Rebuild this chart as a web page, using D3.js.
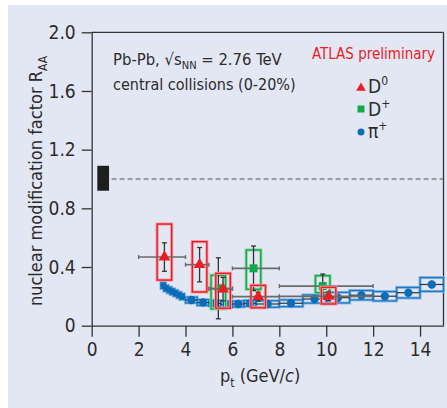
<!DOCTYPE html>
<html>
<head>
<meta charset="utf-8">
<script src="https://cdn.jsdelivr.net/npm/d3@7"></script>
<style>
  body { margin: 0; background: #fff; }
  text { font-family: "Liberation Sans Narrow", "DejaVu Sans Condensed", "Roboto", sans-serif; fill: #2b2b2b; }
</style>
</head>
<body>
<div id="chart"></div>
<script>
// ---- data ----
// D0 (red triangles)
var d0Pt     = [3.1, 4.6, 5.6, 7.1, 10.1];
var d0PtLo   = [2, 4, 5, 6, 8];
var d0PtHi   = [4, 5, 6, 8, 12];
var d0R      = [0.468, 0.416, 0.25, 0.198, 0.2];
var d0Stat   = [0.097, 0.117, 0.08, 0.03, 0.03];
var d0SysLo  = [0.311, 0.23, 0.119, 0.122, 0.148];
var d0SysHi  = [0.693, 0.573, 0.357, 0.275, 0.262];

// D+ (green squares)
var dpPt     = [5.4, 6.9, 9.85];
var dpPtLo   = [5, 6, 8];
var dpPtHi   = [6, 8, 12];
var dpR      = [0.255, 0.391, 0.27];
var dpStat   = [0.208, 0.152, 0.082];
var dpSysLo  = [0.114, 0.248, 0.225];
var dpSysHi  = [0.344, 0.516, 0.341];

// pi+ (blue circles)
var piPt   = [3.05, 3.17, 3.31, 3.44, 3.58, 3.72, 3.85, 4.25, 4.75, 5.25, 5.75, 6.25, 6.75, 7.5, 8.5, 9.5, 10.5, 11.5, 12.5, 13.5, 14.5];
var piPtLo = [2.95, 3.07, 3.21, 3.34, 3.48, 3.62, 3.75, 4.0, 4.5, 5.0, 5.5, 6.0, 6.5, 7, 8, 9, 10, 11, 12, 13, 14];
var piPtHi = [3.15, 3.27, 3.41, 3.54, 3.68, 3.82, 3.95, 4.5, 5.0, 5.5, 6.0, 6.5, 7.0, 8, 9, 10, 11, 12, 13, 14, 15];
var piR    = [0.275, 0.255, 0.243, 0.232, 0.221, 0.209, 0.198, 0.175, 0.158, 0.152, 0.146, 0.148, 0.152, 0.148, 0.153, 0.182, 0.191, 0.208, 0.201, 0.225, 0.281];
var piStat = [0.005, 0.005, 0.005, 0.005, 0.005, 0.005, 0.005, 0.005, 0.005, 0.005, 0.005, 0.006, 0.006, 0.007, 0.008, 0.009, 0.01, 0.012, 0.014, 0.02, 0.026];
var piSys  = [0.022, 0.02, 0.02, 0.02, 0.02, 0.02, 0.02, 0.02, 0.02, 0.02, 0.02, 0.02, 0.02, 0.022, 0.023, 0.028, 0.036, 0.032, 0.032, 0.036, 0.047];

// normalisation uncertainty box at RAA = 1
var normPt = [0.24, 0.74];
var normR  = [0.92, 1.09];

var xTicks = [0, 2, 4, 6, 8, 10, 12, 14];
var yTicks = [0, 0.4, 0.8, 1.2, 1.6, 2.0];

// ---- layout ----
var W = 447, H = 408;
var margin = {top: 32.3, right: 3.5, bottom: 82.3, left: 91.7},
    width = W - margin.left - margin.right,
    height = H - margin.top - margin.bottom;

var root = d3.select("#chart").append("svg")
    .attr("width", W).attr("height", H);

// lavender panel
root.append("rect").attr("x", 8).attr("y", 5).attr("width", W - 8).attr("height", H - 5)
    .attr("fill", "#e3e7f4");

var svg = root.append("g")
    .attr("transform", "translate(" + margin.left + "," + margin.top + ")");

var x = d3.scaleLinear().domain([0, 15]).range([0, width]);
var y = d3.scaleLinear().domain([0, 2]).range([height, 0]);

// axes
var xAxis = svg.append("g")
    .attr("transform", "translate(0," + height + ")")
    .call(d3.axisBottom(x).tickValues(xTicks).tickSize(11).tickSizeOuter(0).tickPadding(6));
var yAxis = svg.append("g")
    .call(d3.axisLeft(y).tickValues(yTicks).tickSize(10).tickSizeOuter(0).tickPadding(6)
      .tickFormat(function(d){ return d === 0 ? "0" : d3.format(".1f")(d); }));
[xAxis, yAxis].forEach(function(a){
  a.selectAll("path.domain").attr("stroke", "#333").attr("stroke-width", 1.3);
  a.selectAll(".tick line").attr("stroke", "#333").attr("stroke-width", 1.3);
  a.selectAll(".tick text").style("font-size", "19px").attr("fill", "#2b2b2b");
});

// top and right frame
svg.append("line").attr("x1", 0).attr("x2", width).attr("y1", 0).attr("y2", 0)
  .attr("stroke", "#333").attr("stroke-width", 1.3);
svg.append("line").attr("x1", width).attr("x2", width).attr("y1", 0).attr("y2", height)
  .attr("stroke", "#333").attr("stroke-width", 1.3);

// dashed line at 1
svg.append("line").attr("x1", x(0.85)).attr("x2", width).attr("y1", y(1)).attr("y2", y(1))
  .attr("stroke", "#555").attr("stroke-width", 1.1).attr("stroke-dasharray", "5,3");

svg.append("rect")
  .attr("x", x(normPt[0])).attr("width", x(normPt[1]) - x(normPt[0]))
  .attr("y", y(normR[1])).attr("height", y(normR[0]) - y(normR[1]))
  .attr("fill", "#1e1e1e");

// ---- pi+ ----
var pi = piPt.map(function(p, i){
  return {pt: p, lo: piPtLo[i], hi: piPtHi[i], r: piR[i], st: piStat[i], sy: piSys[i]};
});
var gPi = svg.append("g");
gPi.selectAll("rect.halo").data(pi).enter().append("rect")
  .attr("x", function(d){ return x(d.lo); })
  .attr("width", function(d){ return x(d.hi) - x(d.lo); })
  .attr("y", function(d){ return y(d.r + d.sy); })
  .attr("height", function(d){ return y(d.r - d.sy) - y(d.r + d.sy); })
  .attr("fill", "none").attr("stroke", "#8dbbe6").attr("stroke-width", 3);
gPi.selectAll("rect.box").data(pi).enter().append("rect")
  .attr("x", function(d){ return x(d.lo); })
  .attr("width", function(d){ return x(d.hi) - x(d.lo); })
  .attr("y", function(d){ return y(d.r + d.sy); })
  .attr("height", function(d){ return y(d.r - d.sy) - y(d.r + d.sy); })
  .attr("fill", "none").attr("stroke", "#1f78c3").attr("stroke-width", 1.3);
gPi.selectAll("line.h").data(pi).enter().append("line")
  .attr("x1", function(d){ return x(d.lo); }).attr("x2", function(d){ return x(d.hi); })
  .attr("y1", function(d){ return y(d.r); }).attr("y2", function(d){ return y(d.r); })
  .attr("stroke", "#333").attr("stroke-width", 1.2);
gPi.selectAll("line.v").data(pi).enter().append("line")
  .attr("x1", function(d){ return x(d.pt); }).attr("x2", function(d){ return x(d.pt); })
  .attr("y1", function(d){ return y(d.r - d.st); }).attr("y2", function(d){ return y(d.r + d.st); })
  .attr("stroke", "#333").attr("stroke-width", 1.2);
gPi.selectAll("circle").data(pi).enter().append("circle")
  .attr("cx", function(d){ return x(d.pt); }).attr("cy", function(d){ return y(d.r); })
  .attr("r", function(d){ return d.pt < 4 ? 2.8 : 4.2; })
  .attr("fill", "#0b6db8");

// ---- D mesons ----
function drawD(pts, lo, hi, r, st, syLo, syHi, color, halo, symbol, size) {
  var data = pts.map(function(p, i){
    return {pt: p, lo: lo[i], hi: hi[i], r: r[i], st: st[i], a: syLo[i], b: syHi[i]};
  });
  var g = svg.append("g");
  var bw = 0.31;
  [[halo, 3.2], [color, 1.4]].forEach(function(s){
    g.selectAll(null).data(data).enter().append("rect")
      .attr("x", function(d){ return x(d.pt - bw); })
      .attr("width", function(d){ return x(d.pt + bw) - x(d.pt - bw); })
      .attr("y", function(d){ return y(d.b); })
      .attr("height", function(d){ return y(d.a) - y(d.b); })
      .attr("fill", "none").attr("stroke", s[0]).attr("stroke-width", s[1]);
  });
  // horizontal bars (bin width) with caps
  g.selectAll(null).data(data).enter().append("line")
    .attr("x1", function(d){ return x(d.lo); }).attr("x2", function(d){ return x(d.hi); })
    .attr("y1", function(d){ return y(d.r); }).attr("y2", function(d){ return y(d.r); })
    .attr("stroke", "#6b6b6b").attr("stroke-width", 1.6);
  ["lo", "hi"].forEach(function(k){
    g.selectAll(null).data(data).enter().append("line")
      .attr("x1", function(d){ return x(d[k]); }).attr("x2", function(d){ return x(d[k]); })
      .attr("y1", function(d){ return y(d.r) - 2; }).attr("y2", function(d){ return y(d.r) + 2; })
      .attr("stroke", "#6b6b6b").attr("stroke-width", 1.4);
  });
  // vertical stat bars with caps
  g.selectAll(null).data(data).enter().append("line")
    .attr("x1", function(d){ return x(d.pt); }).attr("x2", function(d){ return x(d.pt); })
    .attr("y1", function(d){ return y(d.r - d.st); }).attr("y2", function(d){ return y(d.r + d.st); })
    .attr("stroke", "#333").attr("stroke-width", 1.3);
  [-1, 1].forEach(function(sg){
    g.selectAll(null).data(data).enter().append("line")
      .attr("x1", function(d){ return x(d.pt) - 2.5; }).attr("x2", function(d){ return x(d.pt) + 2.5; })
      .attr("y1", function(d){ return y(d.r + sg * d.st); }).attr("y2", function(d){ return y(d.r + sg * d.st); })
      .attr("stroke", "#333").attr("stroke-width", 1.3);
  });
  g.selectAll(null).data(data).enter().append("path")
    .attr("d", d3.symbol().type(symbol).size(size))
    .attr("transform", function(d){ return "translate(" + x(d.pt) + "," + y(d.r) + ")"; })
    .attr("fill", color);
}

drawD(dpPt, dpPtLo, dpPtHi, dpR, dpStat, dpSysLo, dpSysHi, "#12a84a", "#8fd6a6", d3.symbolSquare, 64);
drawD(d0Pt, d0PtLo, d0PtHi, d0R, d0Stat, d0SysLo, d0SysHi, "#ec1c24", "#f3a0a4", d3.symbolTriangle, 60);

// ---- labels ----
root.append("text").attr("x", 113).attr("y", 65).style("font-size", "16.5px")
  .html('Pb-Pb, \u221As<tspan dy="4" style="font-size:11px">NN</tspan><tspan dy="-4"> = 2.76 TeV</tspan>');
root.append("text").attr("x", 113).attr("y", 90).style("font-size", "16px")
  .text("central collisions (0-20%)");
root.append("text").attr("x", 435).attr("y", 59).attr("text-anchor", "end")
  .style("font-size", "15px").style("fill", "#ec1c24").text("ATLAS preliminary");

// legend
root.append("path").attr("d", d3.symbol().type(d3.symbolTriangle).size(40))
  .attr("transform", "translate(361,88)").attr("fill", "#ec1c24");
root.append("rect").attr("x", 357.5).attr("y", 105.5).attr("width", 7).attr("height", 7).attr("fill", "#12a84a");
root.append("circle").attr("cx", 361).attr("cy", 132).attr("r", 3.5).attr("fill", "#0b6db8");
root.append("text").attr("x", 368).attr("y", 93).style("font-size", "19px")
  .html('D<tspan dy="-8" style="font-size:12px">0</tspan>');
root.append("text").attr("x", 368).attr("y", 116).style("font-size", "19px")
  .html('D<tspan dy="-8" style="font-size:12px">+</tspan>');
root.append("text").attr("x", 368).attr("y", 138).style("font-size", "19px")
  .html('\u03C0<tspan dy="-8" style="font-size:12px">+</tspan>');

// axis titles
root.append("text").attr("x", 220).attr("y", 382).style("font-size", "18px")
  .html('p<tspan dy="5" style="font-size:12px">t</tspan><tspan dy="-5">  (GeV/</tspan><tspan style="font-style:italic">c</tspan>)');
root.append("text").attr("transform", "translate(42,181) rotate(-90)")
  .attr("text-anchor", "middle").style("font-size", "18px")
  .html('nuclear modification factor R<tspan dy="5" style="font-size:12px">AA</tspan>');
</script>
</body>
</html>
